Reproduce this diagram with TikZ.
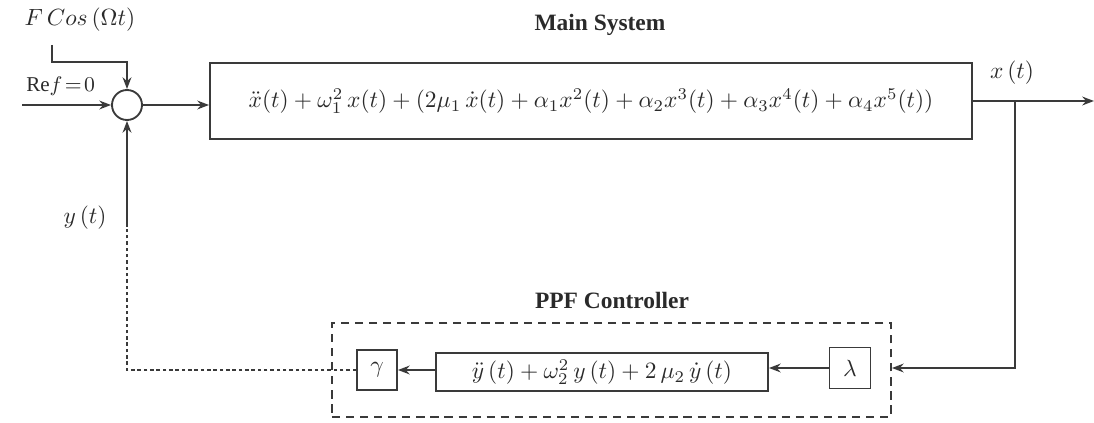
\documentclass[tikz,border=0pt]{standalone}
\usepackage{fontspec}
\setmainfont{Liberation Serif}
\usepackage{tikz}
\usetikzlibrary{arrows.meta, positioning}
\definecolor{LineGray}{HTML}{3A3A3A}
\definecolor{TextGray}{HTML}{2A2A2A}

\begin{document}
\begin{tikzpicture}[
        x=0.015cm, y=-0.015cm,
        block/.style={
          rectangle, draw=LineGray, line width=0.8pt,
          align=center, inner sep=2pt,
          font=\color{TextGray}
        },
        sumnode/.style={
          circle, draw=LineGray, line width=0.8pt,
          minimum size=0.45cm, inner sep=0pt
        },
        ctrlbox/.style={
          rectangle, draw=LineGray, line width=0.8pt,
          dash pattern=on 3.5pt off 2.5pt,
          minimum width=8.385cm, minimum height=1.41cm
        },
        lbl/.style={font=\color{TextGray}},
        title/.style={font=\bfseries\color{TextGray}},
        arr/.style={-{Stealth[length=5pt]}, LineGray, line width=0.8pt},
        fb/.style={LineGray, dash pattern=on 1.5pt off 1.2pt, line width=0.8pt}
      ]
      \useasboundingbox (0,0) rectangle (1094,423);

      % main loop
      \node[sumnode] (sum) at (127,105) {};
      \node[block, minimum width=11.43cm, minimum height=1.14cm] (main) at (591,101)
        {$\ddot{x}(t)+\omega_1^2\,x(t)+(2\mu_1\,\dot{x}(t)+\alpha_1x^2(t)+\alpha_2x^3(t)+\alpha_3x^4(t)+\alpha_4x^5(t))$};
      \node[title] (mainlbl) at (600,25) {Main System};

      \coordinate (refin) at (22,105);
      \coordinate (fstart) at (52,45);
      \coordinate (fbend) at (52,62);
      \coordinate (branch) at (1015,101);
      \coordinate (outend) at (1094,101);
      \coordinate (yjoin) at (127,227);

      \node[lbl, anchor=south west, font=\small\color{TextGray}] (reflbl) at (18,104) {$\mathrm{Re}f\!=\!0$};
      \node[lbl] (flbl) at (80,20) {$F\,Cos\,(\Omega t)$};
      \node[lbl] (xlbl) at (1012,73) {$x\,(t)$};
      \node[lbl] (ylbl) at (85,218) {$y\,(t)$};

      % controller
      \node[ctrlbox] (ppf) at (611.5,370) {};
      \node[title] (ppflbl) at (612,300) {PPF Controller};
      \node[block, minimum width=0.615cm, minimum height=0.615cm] (lam) at (850,368) {$\lambda$};
      \node[block, minimum width=4.98cm, minimum height=0.57cm] (ppfeq) at (602,372)
        {$\ddot{y}\,(t)+\omega_2^2\,y\,(t)+2\,\mu_2\,\dot{y}\,(t)$};
      \node[block, minimum width=0.6cm, minimum height=0.6cm] (gam) at (377,370) {$\gamma$};

      \draw[arr] (refin) -- (sum.west);
      \draw[arr] (fstart) -- (fbend) -| (sum.north);
      \draw[arr] (sum.east) -- (sum.east -| main.west);
      \draw[arr] (main.east) -- (outend);
      \draw[arr] (branch) |- (ppf.east |- lam);
      \draw[arr] (lam.west) -- (lam.west -| ppfeq.east);
      \draw[arr] (ppfeq.west |- gam) -- (gam.east);
      \draw[fb] (gam.west) -| (yjoin);
      \draw[arr] (yjoin) -- (sum.south);
    \end{tikzpicture}
\end{document}
